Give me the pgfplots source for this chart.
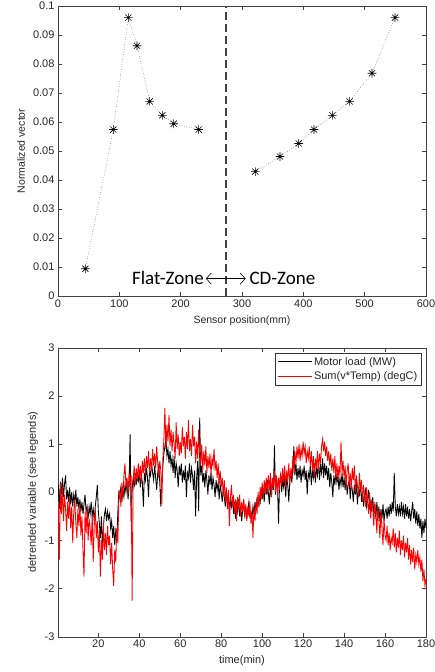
\documentclass[border=0pt]{standalone}
\usepackage{pgfplots}
\pgfplotsset{compat=1.18}
\usepackage{pgfplotstable}
\usepackage{fontspec}
\setmainfont{Liberation Sans}
\newfontfamily\calibri{Carlito}
\usetikzlibrary{arrows.meta}

\pgfdeclareplotmark{mstar}{%
 \pgfpathmoveto{\pgfqpoint{-\pgfplotmarksize}{0pt}}\pgfpathlineto{\pgfqpoint{\pgfplotmarksize}{0pt}}%
 \pgfpathmoveto{\pgfqpoint{0pt}{-\pgfplotmarksize}}\pgfpathlineto{\pgfqpoint{0pt}{\pgfplotmarksize}}%
 \pgfpathmoveto{\pgfqpoint{-0.707\pgfplotmarksize}{-0.707\pgfplotmarksize}}\pgfpathlineto{\pgfqpoint{0.707\pgfplotmarksize}{0.707\pgfplotmarksize}}%
 \pgfpathmoveto{\pgfqpoint{-0.707\pgfplotmarksize}{0.707\pgfplotmarksize}}\pgfpathlineto{\pgfqpoint{0.707\pgfplotmarksize}{-0.707\pgfplotmarksize}}%
 \pgfusepathqstroke}

\pgfplotstableread{
x y
44.6 0.0094
90.2 0.0574
114.7 0.0960
128.8 0.0863
149.5 0.0671
170.1 0.0623
188.6 0.0594
229.3 0.0574
}\leftzone
\pgfplotstableread{
x y
321.7 0.0429
362.0 0.0481
392.4 0.0526
417.4 0.0574
447.3 0.0623
475.5 0.0671
511.9 0.0768
549.5 0.0960
}\rightzone

\pgfplotstableread{
t m s
0.5 0.15 -0.2
1.0 -0.35 -1.40
1.5 0.22 0.20
2.0 -0.05 -0.45
2.5 0.30 0.10
3.0 -0.10 -0.60
3.5 0.18 -0.05
4.0 0.35 -0.35
4.5 -0.15 -0.80
5.0 0.05 -0.20
5.5 -0.20 -0.55
6.0 0.10 -0.10
6.5 -0.25 -0.75
7.0 0.00 -0.30
7.5 -0.30 -1.05
8.0 -0.05 -0.40
8.5 -0.22 -0.15
9.0 0.05 -0.65
9.5 -0.30 -0.95
10.0 -0.10 -0.35
10.5 -0.35 -0.70
11.0 -0.15 -0.25
11.5 -0.40 -0.90
12.0 -0.20 -0.50
12.5 -0.45 -1.20
13.0 -0.25 -1.75
13.5 -0.05 -0.40
14.0 -0.40 -0.85
14.5 -0.30 -0.30
15.0 -0.55 -1.00
15.5 -0.30 -0.55
16.0 -0.45 -0.75
16.5 -0.20 -1.10
17.0 -0.50 -0.45
17.5 -0.35 -1.45
18.0 -0.60 -0.70
18.5 -0.30 -0.35
19.0 -0.10 -0.95
19.5 0.15 -0.60
20.0 -0.40 -1.25
20.5 -0.65 -0.80
21.0 -0.95 -1.75
21.5 -0.50 -1.00
22.0 -1.20 -1.40
22.5 -0.70 -0.65
23.0 -0.45 -1.20
23.5 -0.35 -0.85
24.0 -0.60 -1.30
24.5 -0.40 -0.70
25.0 -0.55 -1.10
25.5 -0.45 -0.90
26.0 -0.75 -1.50
26.5 -0.60 -1.05
27.0 -0.95 -1.60
27.5 -0.70 -1.95
28.0 -1.10 -1.20
28.5 -0.80 -1.45
29.0 -0.95 -0.75
29.5 -0.45 -1.05
30.0 0.00 -0.20
30.5 -0.05 0.05
31.0 0.10 -0.30
31.5 -0.20 0.20
32.0 0.05 -0.10
32.5 -0.10 0.35
33.0 0.15 0.60
33.5 0.00 0.10
34.0 0.25 0.30
34.5 -0.15 -0.05
35.0 0.10 0.40
35.5 1.20 0.20
36.0 -0.60 0.35
36.5 0.05 -2.25
37.0 0.30 0.25
37.5 0.10 0.55
38.0 0.35 0.15
38.5 0.15 0.50
39.0 0.40 0.25
39.5 0.20 0.60
40.0 0.45 0.30
40.5 0.10 0.55
41.0 0.35 0.20
41.5 0.20 0.65
42.0 -0.30 0.40
42.5 0.40 0.70
43.0 0.25 0.35
43.5 0.50 0.75
44.0 0.30 0.50
44.5 -0.10 0.85
45.0 0.45 0.40
45.5 0.35 0.70
46.0 0.60 0.45
46.5 0.40 0.90
47.0 0.25 0.55
47.5 0.55 0.80
48.0 0.30 0.50
48.5 0.05 0.95
49.0 0.40 0.60
49.5 0.55 0.30
50.0 0.20 0.65
50.5 -0.30 0.45
51.0 0.30 -0.25
51.5 0.55 0.70
52.0 0.80 1.10
52.5 0.95 1.75
53.0 1.10 0.90
53.5 0.75 1.40
54.0 0.90 1.05
54.5 0.60 1.60
55.0 0.85 0.95
55.5 0.55 1.30
56.0 0.70 0.85
56.5 0.40 1.25
57.0 0.75 1.00
57.5 0.30 0.70
58.0 0.60 1.45
58.5 0.45 0.90
59.0 0.10 1.20
59.5 0.55 0.75
60.0 0.35 1.05
60.5 0.60 0.80
61.0 0.20 1.35
61.5 0.45 0.95
62.0 0.25 1.15
62.5 0.55 0.70
63.0 -0.10 1.25
63.5 0.40 0.90
64.0 0.30 1.50
64.5 0.60 0.85
65.0 0.20 1.10
65.5 0.50 0.75
66.0 0.35 1.40
66.5 0.05 0.95
67.0 0.45 1.15
67.5 -0.50 0.60
68.0 0.30 1.05
68.5 0.65 0.70
69.0 -0.40 1.30
69.5 1.55 0.80
70.0 0.35 0.55
70.5 0.55 1.00
71.0 0.20 0.45
71.5 0.40 0.85
72.0 0.10 0.55
72.5 0.45 0.95
73.0 0.25 0.40
73.5 -0.05 0.75
74.0 0.35 0.50
74.5 0.15 0.80
75.0 0.40 0.35
75.5 0.05 0.70
76.0 0.30 0.55
76.5 0.15 0.90
77.0 -0.10 0.45
77.5 0.25 0.65
78.0 0.05 0.30
78.5 0.20 0.60
79.0 -0.15 0.15
79.5 0.15 0.45
80.0 0.00 0.10
80.5 -0.20 0.30
81.0 0.10 -0.05
81.5 -0.10 0.25
82.0 -0.30 -0.20
82.5 0.05 0.10
83.0 -0.25 -0.35
83.5 -0.05 0.05
84.0 -0.40 -0.70
84.5 -0.15 -0.10
85.0 -0.30 0.15
85.5 -0.10 -0.30
86.0 -0.45 -0.05
86.5 -0.20 -0.45
87.0 -0.55 -0.15
87.5 -0.25 -0.60
88.0 -0.40 -0.10
88.5 -0.15 -0.35
89.0 -0.50 -0.05
89.5 -0.30 -0.50
90.0 -0.60 -0.20
90.5 -0.35 -0.40
91.0 -0.20 -0.15
91.5 -0.50 -0.55
92.0 -0.30 -0.25
92.5 -0.55 -0.60
93.0 -0.35 -0.30
93.5 -0.20 -0.50
94.0 -0.50 -0.20
94.5 -0.40 -0.65
95.0 -0.55 -0.40
95.5 -0.30 -0.95
96.0 -0.45 -0.30
96.5 -0.20 -0.60
97.0 -0.40 -0.20
97.5 -0.10 -0.45
98.0 -0.30 0.00
98.5 -0.05 -0.30
99.0 -0.25 0.10
99.5 0.10 -0.15
100.0 -0.15 0.20
100.5 0.05 -0.10
101.0 -0.20 0.25
101.5 0.20 0.00
102.0 -0.05 0.30
102.5 0.25 -0.05
103.0 0.00 0.35
103.5 -0.25 0.05
104.0 0.15 0.40
104.5 -0.10 -0.10
105.0 0.25 0.30
105.5 0.05 0.10
106.0 0.97 0.45
106.5 -0.05 0.00
107.0 0.30 0.35
107.5 0.10 -0.05
108.0 -0.65 0.30
108.5 0.20 0.05
109.0 0.35 0.40
109.5 0.00 0.15
110.0 0.25 0.50
110.5 0.10 0.20
111.0 0.35 0.55
111.5 -0.10 0.10
112.0 0.30 0.45
112.5 0.15 0.25
113.0 -0.20 0.60
113.5 0.25 0.15
114.0 0.45 0.50
114.5 0.20 0.30
115.0 0.55 0.75
115.5 0.95 0.40
116.0 0.35 0.85
116.5 0.60 0.60
117.0 0.25 0.95
117.5 0.50 0.70
118.0 0.30 1.00
118.5 0.55 0.65
119.0 0.20 0.90
119.5 0.45 0.75
120.0 0.35 1.05
120.5 0.55 0.80
121.0 0.25 0.95
121.5 0.45 0.60
122.0 -0.05 0.85
122.5 0.40 0.70
123.0 0.30 0.95
123.5 0.55 0.55
124.0 0.15 0.85
124.5 0.45 0.45
125.0 0.30 0.75
125.5 0.60 0.30
126.0 0.20 0.70
126.5 0.50 0.50
127.0 0.35 0.85
127.5 0.65 0.45
128.0 0.25 0.80
128.5 0.55 0.60
129.0 0.40 0.95
129.5 0.70 1.10
130.0 0.30 0.85
130.5 0.60 1.05
131.0 0.35 0.75
131.5 0.55 0.95
132.0 0.25 0.65
132.5 0.50 0.85
133.0 0.10 0.55
133.5 0.40 0.80
134.0 0.20 0.45
134.5 -0.10 0.70
135.0 0.35 0.40
135.5 0.15 0.75
136.0 0.40 0.30
136.5 0.20 0.60
137.0 0.35 0.25
137.5 0.05 0.55
138.0 0.30 0.35
138.5 0.15 1.05
139.0 0.40 0.40
139.5 0.10 0.65
140.0 0.30 0.30
140.5 0.05 0.55
141.0 0.30 0.10
141.5 -0.05 0.45
142.0 0.15 0.60
142.5 0.25 0.15
143.0 -0.15 0.40
143.5 0.20 0.05
144.0 0.05 0.50
144.5 -0.20 0.25
145.0 0.15 0.55
145.5 -0.05 0.00
146.0 0.20 0.35
146.5 -0.25 0.15
147.0 0.05 -0.10
147.5 -0.05 0.40
148.0 0.20 0.05
148.5 -0.20 0.25
149.0 0.00 -0.20
149.5 -0.30 0.15
150.0 -0.05 -0.05
150.5 0.05 -0.30
151.0 -0.30 0.10
151.5 -0.15 -0.20
152.0 0.05 -0.45
152.5 -0.35 0.00
153.0 -0.20 -0.55
153.5 -0.40 -0.15
154.0 -0.10 -0.35
154.5 -0.45 -0.70
155.0 -0.25 -0.20
155.5 -0.55 -0.45
156.0 -0.20 -0.85
156.5 -0.50 -0.30
157.0 -0.30 -0.60
157.5 -0.60 -0.95
158.0 -0.35 -0.40
158.5 -0.55 -0.75
159.0 -0.25 -1.10
159.5 -0.60 -0.55
160.0 -0.40 -0.90
160.5 -0.35 -1.00
161.0 -0.55 -0.70
161.5 -0.30 -1.10
162.0 -0.50 -0.85
162.5 -0.25 -1.20
163.0 -0.45 -0.95
163.5 -0.20 -1.05
164.0 -0.40 -0.75
164.5 0.40 -1.15
165.0 -0.30 -0.85
165.5 -0.50 -1.25
166.0 -0.25 -0.95
166.5 -0.45 -1.15
167.0 -0.30 -0.80
167.5 -0.50 -1.30
168.0 -0.20 -1.00
168.5 -0.45 -1.20
169.0 -0.30 -0.90
169.5 -0.55 -1.35
170.0 -0.25 -1.05
170.5 -0.50 -1.25
171.0 -0.30 -0.95
171.5 -0.55 -1.40
172.0 -0.35 -1.10
172.5 -0.60 -1.50
173.0 -0.40 -1.20
173.5 -0.20 -1.45
174.0 -0.55 -1.15
174.5 -0.35 -1.60
175.0 -0.65 -1.30
175.5 -0.40 -1.45
176.0 -0.70 -1.20
176.5 -0.45 -1.50
177.0 -0.75 -1.35
177.5 -0.55 -1.65
178.0 -0.95 -1.40
178.5 -0.60 -1.85
179.0 -0.85 -1.60
179.5 -0.55 -1.95
180.0 -0.75 -1.80
}\series

\pgfplotsset{
  matlab/.style={
    scale only axis,
    width=368pt,
    tick align=inside,
    major tick length=4pt,
    axis line style={black!75},
    every tick/.style={black!75, line width=0.4pt},
    tick label style={font=\fontsize{11}{13}\selectfont, text=black!85},
    label style={font=\fontsize{10.5}{12}\selectfont, text=black!85},
    /pgf/number format/assume math mode=true,
  }
}

\begin{document}
\begin{tikzpicture}
\useasboundingbox (0,0) rectangle (435pt,-672pt);
\begin{axis}[matlab,
  height=290pt,
  at={(58pt,-6pt)}, anchor=north west,
  xmin=0, xmax=600, ymin=0, ymax=0.1,
  xtick={0,100,...,600},
  ytick={0,0.01,...,0.1},
  yticklabel style={/pgf/number format/fixed, /pgf/number format/precision=2},
  scaled y ticks=false,
  xlabel={Sensor position(mm)},
  ylabel={Normalized vector},
  xlabel style={at={(axis description cs:0.5,-0.086)}, anchor=center},
  ylabel style={at={(axis description cs:-0.1005,0.5)}, anchor=center},
]
\addplot[black!70, dotted, line width=0.5pt, mark=mstar, mark size=4.3pt,
  mark options={solid, black, line width=0.6pt}] table[x=x,y=y] {\leftzone};
\addplot[black!70, dotted, line width=0.5pt, mark=mstar, mark size=4.3pt,
  mark options={solid, black, line width=0.6pt}] table[x=x,y=y] {\rightzone};
\addplot[black!75, line width=1.2pt, dash pattern=on 8pt off 4pt] coordinates {(274,0) (274,0.1)};
\node[font=\calibri\fontsize{19}{22}\selectfont, anchor=east, text=black, inner sep=0pt] at (axis cs:238,0.0062) {Flat-Zone};
\node[font=\calibri\fontsize{19}{22}\selectfont, anchor=west, text=black, inner sep=0pt] at (axis cs:312,0.0062) {CD-Zone};
\draw[black, line width=0.6pt, {Straight Barb[length=5pt,width=11pt]}-{Straight Barb[length=5pt,width=11pt]}] (axis cs:241,0.0060) -- (axis cs:306,0.0060);
\end{axis}

\begin{axis}[matlab,
  height=289pt,
  at={(58pt,-347.7pt)}, anchor=north west,
  xmin=0.3, xmax=180, ymin=-3, ymax=3,
  xtick={20,40,...,180},
  ytick={-3,-2,...,3},
  xlabel={time(min)},
  ylabel={detrended variable (see legends)},
  label style={font=\fontsize{11}{13}\selectfont},
  xlabel style={at={(axis description cs:0.5,-0.083)}, anchor=center},
  ylabel style={at={(axis description cs:-0.068,0.5)}, anchor=center},
  legend style={at={(axis description cs:0.988,0.982)}, anchor=north east,
    draw=black!80, line width=0.5pt, font=\fontsize{11}{13}\selectfont, text=black!85,
    inner sep=2pt, row sep=1pt, cells={anchor=west}},
  legend image code/.code={\draw[#1] (0pt,0pt) -- (34pt,0pt);},
]
\addplot[black, line width=0.85pt] table[x=t,y=m] {\series};
\addlegendentry{Motor load (MW)}
\addplot[red, line width=0.85pt] table[x=t,y=s] {\series};
\addlegendentry{Sum(v*Temp) (degC)}
\end{axis}
\end{tikzpicture}
\end{document}
